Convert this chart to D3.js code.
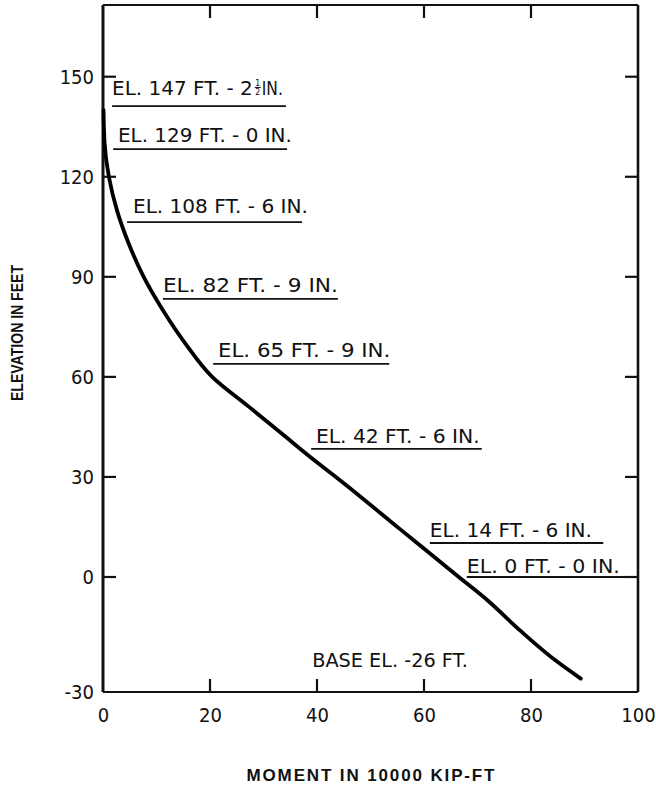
<!DOCTYPE html>
<html>
<head>
<meta charset="utf-8">
<script src="https://cdn.jsdelivr.net/npm/d3@7/dist/d3.min.js"></script>
<style>
  html, body { margin: 0; padding: 0; background: #fff; }
  svg { display: block; }
  .lettering { font-family: 'Liberation Sans Narrow', 'DejaVu Sans Condensed', 'Liberation Sans', sans-serif; font-stretch: condensed; fill: #111; }
  .title { font-family: 'Liberation Sans', Arial, sans-serif; font-weight: bold; fill: #111; }
</style>
</head>
<body>
<svg id="chart" width="656" height="791"></svg>
<script>
// ---- data ----
const elevations = [140, 130, 120, 110, 100, 90, 80, 70, 60, 51, 43, 35, 29, 14.5, 0, -6, -14, -22, -26.5];
const moments    = [0.1, 0.3, 1.1, 2.6, 4.8, 7.6, 11.2, 15.4, 20.4, 27.3, 33.4, 39.5, 44.3, 55.4, 66.5, 71.8, 78.0, 84.8, 89.3];

const xTicks = [0, 20, 40, 60, 80, 100];
const yTicks = [-30, 0, 30, 60, 90, 120, 150];

// elevation annotations (text, anchor in data units)
const labelTexts  = ["EL. 147 FT. - 2", "EL. 129 FT. - 0 IN.", "EL. 108 FT. - 6 IN.", "EL. 82 FT. - 9 IN.", "EL. 65 FT. - 9 IN.", "EL. 42 FT. - 6 IN.", "EL. 14 FT. - 6 IN.", "EL. 0 FT. - 0 IN."];
const labelTextX  = [1.7, 2.8, 5.6, 11.2, 21.5, 39.8, 61.1, 68.0];
const labelTextX1 = [28.0, 35.3, 38.3, 43.9, 53.7, 70.4, 91.4, 96.6];
const labelTextY  = [144.5, 130.4, 109.1, 85.5, 66.0, 40.2, 12.0, 1.2];
const lineY       = [141.2, 128.3, 106.4, 83.4, 63.9, 38.4, 10.2, 0];
const lineX0      = [1.7, 1.9, 4.5, 11.2, 20.6, 38.9, 61.1, 68.0];
const lineX1      = [34.2, 34.4, 37.2, 43.9, 53.5, 70.8, 93.5, 100];
const baseText = "BASE EL. -26 FT.";
const baseX = [39.1, 68.2];
const baseY = -23.5;

const xTitle = "MOMENT IN 10000 KIP-FT";
const yTitle = "ELEVATION IN FEET";

// ---- scales ----
const x = d3.scaleLinear().domain([0, 100]).range([103, 638]);
const y = d3.scaleLinear().domain([-30, 0, 171.5]).range([692, 577, 5]);

const svg = d3.select("#chart");
const T = 13; // tick length

// frame
const frame = svg.append("g").attr("stroke", "#111").attr("fill", "none");
frame.append("line").attr("x1", x(0)).attr("x2", x(0)).attr("y1", y(171.5)).attr("y2", y(-30)).attr("stroke-width", 3);
frame.append("line").attr("x1", x(0)).attr("x2", x(100)).attr("y1", y(-30)).attr("y2", y(-30)).attr("stroke-width", 2.2);
frame.append("line").attr("x1", x(100)).attr("x2", x(100)).attr("y1", y(171.5)).attr("y2", y(-30)).attr("stroke-width", 2.6);
frame.append("line").attr("x1", x(0)).attr("x2", x(100)).attr("y1", y(171.5)).attr("y2", y(171.5)).attr("stroke-width", 2.2);

// axes through d3
const fmt = d => String(d);
const xAxisB = d3.axisBottom(x).tickValues(xTicks).tickFormat(fmt).tickSize(0).tickPadding(16);
const gxb = svg.append("g").attr("transform", `translate(0,${y(-30)})`).call(xAxisB);
gxb.select(".domain").remove();
gxb.selectAll("text").attr("class", "lettering").attr("font-size", 20);

const yAxisL = d3.axisLeft(y).tickValues(yTicks).tickFormat(fmt).tickSize(0).tickPadding(9);
const gyl = svg.append("g").attr("transform", `translate(${x(0)},0)`).call(yAxisL);
gyl.select(".domain").remove();
gyl.selectAll("text").attr("class", "lettering").attr("font-size", 20);

// inward tick marks
const innerX = xTicks.filter(v => v > 0 && v < 100);
const innerY = yTicks.filter(v => v > -30);
const tk = svg.append("g").attr("stroke", "#111").attr("stroke-width", 2.2);
tk.selectAll(".tb").data(innerX).join("line").attr("x1", d => x(d)).attr("x2", d => x(d)).attr("y1", y(-30)).attr("y2", y(-30) - T);
tk.selectAll(".tt").data(innerX).join("line").attr("x1", d => x(d)).attr("x2", d => x(d)).attr("y1", y(171.5)).attr("y2", y(171.5) + T);
tk.selectAll(".tl").data(innerY).join("line").attr("x1", x(0)).attr("x2", x(0) + T).attr("y1", d => y(d)).attr("y2", d => y(d));
tk.selectAll(".tr").data(innerY).join("line").attr("x1", x(100)).attr("x2", x(100) - T).attr("y1", d => y(d)).attr("y2", d => y(d));

// curve
const pts = elevations.map((e, i) => [moments[i], e]);
svg.append("path").datum(pts)
  .attr("fill", "none").attr("stroke", "#000").attr("stroke-width", 3.8)
  .attr("stroke-linecap", "round").attr("stroke-linejoin", "round")
  .attr("d", d3.line().x(d => x(d[0])).y(d => y(d[1])).curve(d3.curveMonotoneY));

// annotations
const ann = svg.append("g");
labelTexts.forEach((t, i) => {
  ann.append("text").attr("class", "lettering").attr("font-size", 20)
    .attr("x", x(labelTextX[i])).attr("y", y(labelTextY[i]))
    .attr("textLength", x(labelTextX1[i]) - x(labelTextX[i])).attr("lengthAdjust", "spacingAndGlyphs")
    .text(t);
  ann.append("line").attr("stroke", "#111").attr("stroke-width", 1.8)
    .attr("x1", x(lineX0[i])).attr("x2", x(lineX1[i])).attr("y1", y(lineY[i])).attr("y2", y(lineY[i]));
});
// stacked fraction 1/2 and "IN." for the first label
{
  const fx = x(labelTextX1[0]) + 5;
  const by = y(labelTextY[0]);
  ann.append("text").attr("class", "lettering").attr("font-size", 8.5).attr("text-anchor", "middle")
    .attr("x", fx).attr("y", by - 9).text("1");
  ann.append("line").attr("stroke", "#111").attr("stroke-width", 1).attr("x1", fx - 3).attr("x2", fx + 3).attr("y1", by - 7.6).attr("y2", by - 7.6);
  ann.append("text").attr("class", "lettering").attr("font-size", 8.5).attr("text-anchor", "middle")
    .attr("x", fx).attr("y", by).text("2");
  ann.append("text").attr("class", "lettering").attr("font-size", 20)
    .attr("x", fx + 4).attr("y", by).attr("textLength", 21).attr("lengthAdjust", "spacingAndGlyphs").text("IN.");
}
ann.append("text").attr("class", "lettering").attr("font-size", 20)
  .attr("x", x(baseX[0])).attr("y", y(baseY))
  .attr("textLength", x(baseX[1]) - x(baseX[0])).attr("lengthAdjust", "spacingAndGlyphs")
  .text(baseText);

// titles
svg.append("text").attr("class", "title").attr("font-size", 17).attr("text-anchor", "middle")
  .attr("x", (x(0) + x(100)) / 2).attr("y", 781)
  .attr("textLength", 248).attr("lengthAdjust", "spacing").text(xTitle);
svg.append("text").attr("class", "title").attr("font-size", 16.5).attr("text-anchor", "middle")
  .attr("transform", `translate(23,333) rotate(-90)`)
  .attr("textLength", 136).attr("lengthAdjust", "spacingAndGlyphs").text(yTitle);
</script>
</body>
</html>
